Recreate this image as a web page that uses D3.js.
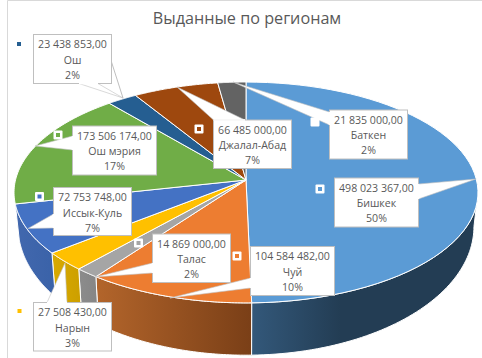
<!DOCTYPE html>
<html>
<head>
<meta charset="utf-8">
<script src="https://cdn.jsdelivr.net/npm/d3@7"></script>
<style>
  html, body { margin: 0; padding: 0; background: #fff; }
  svg { display: block; }
  text { font-family: "Open Sans", sans-serif; fill: #595959; }
</style>
</head>
<body>
<script>
var width = 482, height = 358;

// Data
var regions = ["Бишкек", "Чуй", "Талас", "Нарын", "Иссык-Куль", "Ош мэрия", "Ош", "Джалал-Абад", "Баткен"];
var amounts = [498023367, 104584482, 14869000, 27508430, 72753748, 173506174, 23438853, 66485000, 21835000];
var amountLabels = ["498 023 367,00", "104 584 482,00", "14 869 000,00", "27 508 430,00", "72 753 748,00",
    "173 506 174,00", "23 438 853,00", "66 485 000,00", "21 835 000,00"];
var percentLabels = ["50%", "10%", "2%", "3%", "7%", "17%", "2%", "7%", "2%"];

var topColors = ["#5B9BD5", "#ED7D31", "#A5A5A5", "#FFC000", "#4472C4", "#70AD47", "#255E91", "#9E480E", "#636363"];
// wall gradient, left colour then right colour
var wallColors = [["#33587A", "#233D54"], ["#B3652B", "#7A3F17"], ["#8C8C8C", "#858585"], ["#D9AA00", "#CC9F00"],
    ["#4268AE", "#3A62A8"]];

// callout layout: box x, y, w, h, wedge (tip + 2 base points), legend key
var callouts = [
    { box: [334.5, 178, 84, 49], wedge: [[476, 179], [418.5, 184], [418.5, 199]], key: [320, 189] },
    { box: [250.5, 246.5, 84, 49], wedge: [[170, 298], [250.5, 278], [250.5, 288]], key: [237, 256] },
    { box: [152.5, 234, 78, 48.5], wedge: [[95, 277], [152.5, 263], [152.5, 273]], key: [138.5, 243] },
    { box: [33.5, 302.5, 78, 48.5], wedge: [[65, 263], [47, 302.5], [67, 302.5]], key: [19.5, 311], plain: true },
    { box: [53.5, 187.5, 78, 48], wedge: [[28, 228.5], [53.5, 214], [53.5, 228]], key: [39.5, 196.5] },
    { box: [72.5, 126, 84, 49], wedge: [[35, 146], [72.5, 136], [72.5, 150]], key: [58, 135] },
    { box: [33.5, 34.5, 78, 49], wedge: [[123, 98], [79, 83.5], [98, 83.5]], key: [19, 44], plain: true,
      extra: [[111.5, 62], [123, 98]] },
    { box: [213.5, 120, 78, 48.5], wedge: [[177, 87], [213.5, 120], [245, 120]], key: [199, 129] },
    // the Баткен key sits under its own wedge, only the white backing shows
    { box: [329.5, 110, 78, 49], wedge: [[233, 82], [329.5, 112], [329.5, 125]], key: [315, 122], hidden: true }
];

var svg = d3.select("body").append("svg").attr("width", width).attr("height", height);
var defs = svg.append("defs");

// chart area border
svg.append("path").attr("d", "M7.5,358V0.5H482").attr("fill", "none").attr("stroke", "#D9D9D9");

svg.append("text").attr("x", 247).attr("y", 24).attr("text-anchor", "middle")
    .style("font-size", "16.2px").text("Выданные по регионам");

// pie lies tilted in perspective, the centre sits above the middle of the ellipse
var cx = 246, k = 0.113;
function topPoint(a) {
    var u = Math.sin(a), v = -Math.cos(a), w = 1 - k * v;
    return [cx + 230.5 * u / w, 180 + 109 * v / w];
}
function bottomPoint(a) {
    var u = Math.sin(a), v = -Math.cos(a), w = 1 - k * v;
    return [cx + 226.5 * u / w, 212 + 127 * v / w];
}
function sample(a0, a1) {
    return d3.range(0, 61).map(function (i) { return a0 + (a1 - a0) * i / 60; });
}

var line = d3.line();
var arcs = d3.pie().sort(null).value(function (d) { return d; })(amounts);

var wallStart = 96.5 * Math.PI / 180, wallEnd = 258 * Math.PI / 180;

// walls
var walls = svg.append("g");
arcs.forEach(function (d, i) {
    var a0 = Math.max(d.startAngle, wallStart), a1 = Math.min(d.endAngle, wallEnd);
    if (a1 <= a0 || !wallColors[i]) return;
    var angles = sample(a0, a1);
    var pts = angles.map(topPoint).concat(angles.slice().reverse().map(bottomPoint));
    var xs = d3.extent(pts, function (p) { return p[0]; });
    var grad = defs.append("linearGradient").attr("id", "wall" + i)
        .attr("gradientUnits", "userSpaceOnUse")
        .attr("x1", i == 0 ? 252 : xs[0]).attr("x2", i == 0 ? 340 : xs[1]).attr("y1", 0).attr("y2", 0);
    grad.append("stop").attr("offset", 0).attr("stop-color", wallColors[i][0]);
    grad.append("stop").attr("offset", 1).attr("stop-color", wallColors[i][1]);
    walls.append("path").attr("d", line(pts) + "Z")
        .attr("fill", "url(#wall" + i + ")")
        .attr("stroke", "#fff").attr("stroke-width", 1);
});

// top face
svg.append("g").selectAll("path").data(arcs).enter().append("path")
    .attr("d", function (d) {
        return line([[cx, 180]].concat(sample(d.startAngle, d.endAngle).map(topPoint))) + "Z";
    })
    .attr("fill", function (d, i) { return topColors[i]; })
    .attr("stroke", "#fff").attr("stroke-width", 1).attr("stroke-linejoin", "round");

// callouts
var labels = svg.append("g").selectAll("g").data(callouts).enter().append("g");

labels.append("path")
    .attr("d", function (d) { return line(d.wedge) + "Z"; })
    .attr("fill", "#fff").attr("stroke", "#BFBFBF").attr("stroke-width", 0.6);
labels.filter(function (d) { return d.extra; }).append("path")
    .attr("d", function (d) { return line(d.extra); })
    .attr("fill", "none").attr("stroke", "#BFBFBF");
labels.append("rect")
    .attr("x", function (d) { return d.box[0]; }).attr("y", function (d) { return d.box[1]; })
    .attr("width", function (d) { return d.box[2]; }).attr("height", function (d) { return d.box[3]; })
    .attr("fill", "#fff").attr("stroke", "#BFBFBF");
// repaint the wedge base so the box edge does not cross it
labels.append("path")
    .attr("d", function (d) { return line([d.wedge[1], d.wedge[2]]); })
    .attr("fill", "none").attr("stroke", "#fff").attr("stroke-width", 1.6);

labels.each(function (d, i) {
    var g = d3.select(this), mid = d.box[0] + d.box[2] / 2, y0 = d.box[1] + 13.8;
    [amountLabels[i], regions[i], percentLabels[i]].forEach(function (t, j) {
        g.append("text").attr("x", mid).attr("y", y0 + j * 15.2).attr("text-anchor", "middle")
            .style("font-size", "10.6px").text(t);
    });
    if (!d.plain) {
        g.append("rect").attr("x", d.key[0] - 4.5).attr("y", d.key[1] - 4.5).attr("width", 9).attr("height", 9)
            .attr("rx", 1).attr("fill", "#fff");
    }
    if (!d.hidden) {
        g.append("rect").attr("x", d.key[0] - 2).attr("y", d.key[1] - 2).attr("width", 4).attr("height", 4)
            .attr("fill", topColors[i]);
    }
});
</script>
</body>
</html>
